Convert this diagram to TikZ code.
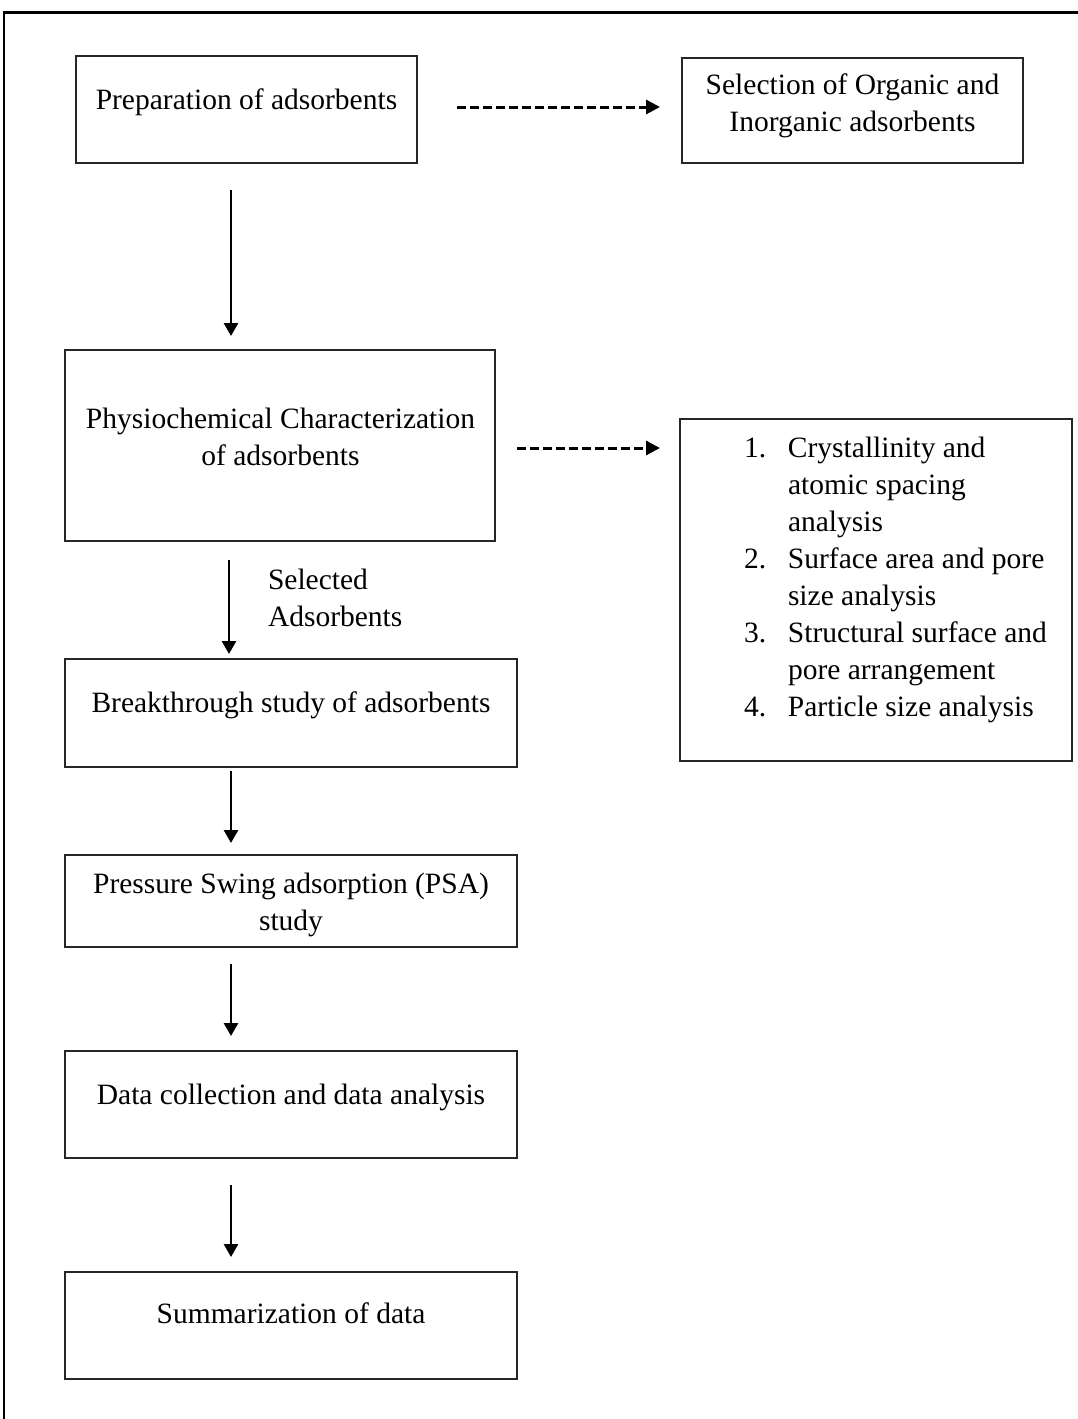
\documentclass[tikz,border=0pt]{standalone}
\usepackage{fontspec}
\setmainfont{Liberation Serif}
\usetikzlibrary{arrows.meta}
\newcommand{\mlines}[1]{\begin{tabular}[t]{@{}c@{}}#1\end{tabular}}
\newcommand{\mlinesl}[1]{\begin{tabular}[t]{@{}l@{}}#1\end{tabular}}
\begin{document}
\begin{tikzpicture}[x=1pt,y=-1pt,
  box/.style={draw=black!85, line width=1.4pt, inner sep=0pt, outer sep=0pt},
  txt/.style={anchor=base, inner sep=0pt, outer sep=0pt, font=\fontsize{29.5}{37}\selectfont},
  arr/.style={line width=2.8pt, -{Triangle[length=13pt,width=14pt]}},
  darr/.style={line width=3pt, dash pattern=on 9pt off 4pt, -{Triangle[length=14pt,width=14pt]}}]
\useasboundingbox (0,0) rectangle (1078,1419);
% outer frame (top and left edges)
\draw[line width=3pt] (4,12.5) -- (1080,12.5);
\draw[line width=1.5pt] (4,11) -- (4,1420);
% boxes
\node[box, minimum width=341pt, minimum height=107pt] (prep) at (246.5,109.5) {};
\node[box, minimum width=341pt, minimum height=105pt] (sel) at (852.5,110.5) {};
\node[box, minimum width=430pt, minimum height=191pt] (phys) at (280,445.5) {};
\node[box, minimum width=392pt, minimum height=342pt] (list) at (876,590) {};
\node[box, minimum width=452pt, minimum height=108pt] (brk) at (291,713) {};
\node[box, minimum width=452pt, minimum height=92pt] (psa) at (291,901) {};
\node[box, minimum width=452pt, minimum height=107pt] (data) at (291,1104.5) {};
\node[box, minimum width=452pt, minimum height=107pt] (summ) at (291,1325.5) {};
% texts
\node[txt] (preptxt) at (246.5,109) {Preparation of adsorbents};
\node[txt] (seltxt) at (852.5,94) {\mlines{Selection of Organic and\\Inorganic adsorbents}};
\node[txt] (phystxt) at (280.5,428) {\mlines{Physiochemical Characterization\\of adsorbents}};
\node[txt] (brktxt) at (291,712) {Breakthrough study of adsorbents};
\node[txt] (psatxt) at (291,893) {\mlines{Pressure Swing adsorption (PSA)\\study}};
\node[txt] (datatxt) at (291,1104) {Data collection and data analysis};
\node[txt] (summtxt) at (291,1323) {Summarization of data};
\node[txt, anchor=base west] (seladtxt) at (268,589) {\mlinesl{Selected\\Adsorbents}};
\node[txt, anchor=base west] (listtxt) at (744,457) {\begin{tabular}[t]{@{}p{44pt}@{}l@{}}
1. & Crystallinity and\\
   & atomic spacing\\
   & analysis\\
2. & Surface area and pore\\
   & size analysis\\
3. & Structural surface and\\
   & pore arrangement\\
4. & Particle size analysis
\end{tabular}};
% connectors
\draw[arr, shorten <=27pt, shorten >=14pt] ([xshift=-15.5pt]prep.south) -- ([xshift=-15.5pt]prep.south |- phys.north);
\draw[arr, shorten <=19pt, shorten >=5pt] ([xshift=-51pt]phys.south) -- ([xshift=-51pt]phys.south |- brk.north);
\draw[arr, shorten <=4pt, shorten >=12pt] ([xshift=-60pt]brk.south) -- ([xshift=-60pt]brk.south |- psa.north);
\draw[arr, shorten <=17pt, shorten >=15pt] ([xshift=-60pt]psa.south) -- ([xshift=-60pt]psa.south |- data.north);
\draw[arr, shorten <=27pt, shorten >=15pt] ([xshift=-60pt]data.south) -- ([xshift=-60pt]data.south |- summ.north);
\draw[darr, shorten <=40pt, shorten >=22pt] ([yshift=2.5pt]prep.east) -- ([yshift=2.5pt]prep.east -| sel.west);
\draw[darr, shorten <=22pt, shorten >=20pt] ([yshift=-2.5pt]phys.east) -- ([yshift=-2.5pt]phys.east -| list.west);
\end{tikzpicture}
\end{document}
